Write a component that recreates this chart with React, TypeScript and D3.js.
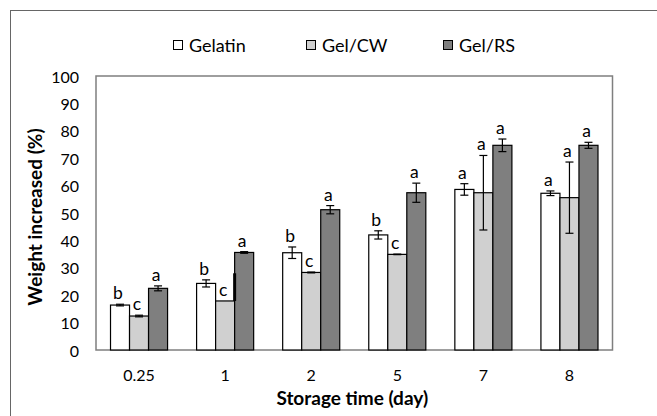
import React from "react";
import * as d3 from "d3";

const categories = ["0.25", "1", "2", "5", "7", "8"];
const seriesNames = ["Gelatin", "Gel/CW", "Gel/RS"];
const seriesColors = ["#ffffff", "#d0d0d0", "#7f7f7f"];

const gelatinValues = [16.4, 24.3, 35.5, 42.0, 58.6, 57.2];
const gelatinErrors = [0.3, 1.3, 2.1, 1.5, 2.1, 0.85];
const gelatinLetters = ["b", "b", "b", "b", "a", "a"];

const gelCwValues = [12.4, 17.9, 28.3, 34.9, 57.4, 55.6];
const gelCwErrors = [0.3, 0, 0.15, 0.1, 13.6, 13.0];
const gelCwLetters = ["c", "c", "c", "c", "a", "a"];
// odd upper-only error segment drawn at the bar edge in the original (day 1)
const gelCwEdgeErrorUp = [0, 10.1, 0, 0, 0, 0];

const gelRsValues = [22.5, 35.6, 51.2, 57.4, 74.7, 74.7];
const gelRsErrors = [0.9, 0.3, 1.5, 3.5, 2.3, 1.1];
const gelRsLetters = ["a", "a", "a", "a", "a", "a"];

const yTicks = [0, 10, 20, 30, 40, 50, 60, 70, 80, 90, 100];

const W = 657;
const H = 416;
const plot = { left: 96, right: 612.5, top: 76, bottom: 350 };
const FONT = "Lato, 'Open Sans', sans-serif";

export default function App() {
  const x = d3
    .scaleBand<string>()
    .domain(categories)
    .range([plot.left, plot.right])
    .paddingInner(0)
    .paddingOuter(0);
  const xSub = d3
    .scaleBand<string>()
    .domain(seriesNames)
    .range([0, x.bandwidth()])
    .paddingInner(0)
    .paddingOuter(0.763);
  const y = d3.scaleLinear().domain([0, 100]).range([plot.bottom, plot.top]);

  const series = [
    { name: seriesNames[0], values: gelatinValues, errors: gelatinErrors, letters: gelatinLetters },
    { name: seriesNames[1], values: gelCwValues, errors: gelCwErrors, letters: gelCwLetters },
    { name: seriesNames[2], values: gelRsValues, errors: gelRsErrors, letters: gelRsLetters },
  ];

  const bw = xSub.bandwidth();
  const cap = 4;

  const legendX = [173, 306, 443];

  return (
    <svg
      width={W}
      height={H}
      style={{ position: "absolute", left: 0, top: 0, background: "#fff" }}
      fontFamily={FONT}
    >
      <rect x={0} y={0} width={W} height={H} fill="#fff" />
      {/* outer chart frame (extends beyond the visible area on right/bottom) */}
      <rect x={10.5} y={10.5} width={W + 20} height={H + 20} fill="none" stroke="#666" strokeWidth={1} />

      {/* legend */}
      {seriesNames.map((n, i) => (
        <g key={n}>
          <rect
            x={legendX[i] + 0.5}
            y={40.5}
            width={9}
            height={9}
            fill={seriesColors[i]}
            stroke="#000"
            strokeWidth={1}
          />
          <text x={legendX[i] + 16} y={45} fontSize={18} dominantBaseline="central" fill="#000">
            {n}
          </text>
        </g>
      ))}

      {/* plot area border */}
      <rect
        x={plot.left}
        y={plot.top}
        width={plot.right - plot.left}
        height={plot.bottom - plot.top}
        fill="none"
        stroke="#7f7f7f"
        strokeWidth={1.5}
      />

      {/* y tick labels */}
      {yTicks.map((t) => (
        <text
          key={t}
          x={79}
          y={y(t)}
          textAnchor="end"
          dominantBaseline="central"
          fontSize={16}
          fill="#000"
        >
          {t}
        </text>
      ))}

      {/* bars */}
      {series.map((s, si) =>
        categories.map((c, ci) => {
          const bx = (x(c) as number) + (xSub(s.name) as number);
          const v = s.values[ci];
          return (
            <rect
              key={`${si}-${ci}`}
              x={bx}
              y={y(v)}
              width={bw}
              height={y(0) - y(v)}
              fill={seriesColors[si]}
              stroke="#000"
              strokeWidth={1.2}
            />
          );
        })
      )}

      {/* error bars */}
      {series.map((s, si) =>
        categories.map((c, ci) => {
          const cx = (x(c) as number) + (xSub(s.name) as number) + bw / 2;
          const v = s.values[ci];
          const e = s.errors[ci];
          if (e <= 0) return null;
          const y1 = y(v + e);
          const y2 = y(v - e);
          return (
            <g key={`e-${si}-${ci}`} stroke="#000" strokeWidth={1.2}>
              <line x1={cx} x2={cx} y1={y1} y2={y2} />
              <line x1={cx - cap} x2={cx + cap} y1={y1} y2={y1} />
              <line x1={cx - cap} x2={cx + cap} y1={y2} y2={y2} />
            </g>
          );
        })
      )}
      {categories.map((c, ci) => {
        const up = gelCwEdgeErrorUp[ci];
        if (up <= 0) return null;
        const ex = (x(c) as number) + (xSub(seriesNames[1]) as number) + bw;
        return (
          <line
            key={`edge-${ci}`}
            x1={ex}
            x2={ex}
            y1={y(gelCwValues[ci] + up)}
            y2={y(gelCwValues[ci])}
            stroke="#000"
            strokeWidth={3}
          />
        );
      })}

      {/* significance letters */}
      {series.map((s, si) =>
        categories.map((c, ci) => {
          const cx = (x(c) as number) + (xSub(s.name) as number) + bw / 2 - 2;
          const top = y(s.values[ci] + s.errors[ci]);
          return (
            <text
              key={`l-${si}-${ci}`}
              x={cx}
              y={top - 11.5}
              textAnchor="middle"
              dominantBaseline="central"
              fontSize={17.5}
              fill="#000"
            >
              {s.letters[ci]}
            </text>
          );
        })
      )}

      {/* x tick labels */}
      {categories.map((c) => (
        <text
          key={c}
          x={(x(c) as number) + x.bandwidth() / 2}
          y={374}
          textAnchor="middle"
          dominantBaseline="central"
          fontSize={16}
          fill="#000"
        >
          {c}
        </text>
      ))}

      {/* axis titles */}
      <text
        x={(plot.left + plot.right) / 2 - 2}
        y={397}
        textAnchor="middle"
        dominantBaseline="central"
        fontSize={19}
        fontWeight="bold"
        fill="#000"
      >
        Storage time (day)
      </text>
      <text
        transform={`translate(34, ${(plot.top + plot.bottom) / 2 + 4}) rotate(-90)`}
        textAnchor="middle"
        dominantBaseline="central"
        fontSize={19}
        fontWeight="bold"
        fill="#000"
      >
        Weight increased (%)
      </text>
    </svg>
  );
}
